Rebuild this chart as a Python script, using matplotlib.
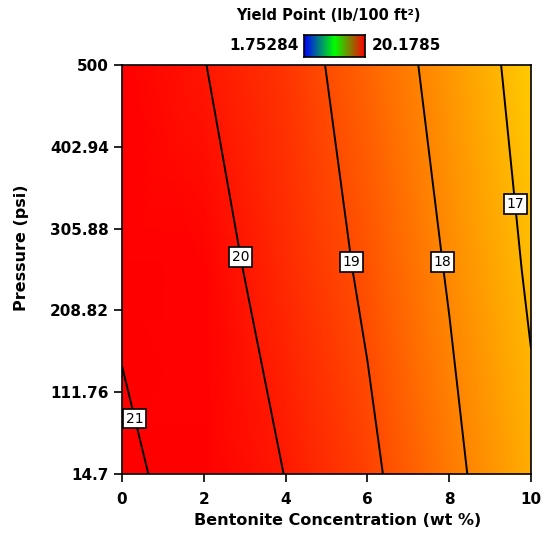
import numpy as np
import matplotlib
matplotlib.use('Agg')
import matplotlib.pyplot as plt
from matplotlib.colors import LinearSegmentedColormap

# Read-off grid of the response surface (yield point, lb/100 ft^2)
conc = [0.0, 2.0, 4.0, 6.0, 8.0, 10.0]      # wt %
pressure = [14.7, 257.35, 500.0]            # psi
yp = [
    [21.19, 20.60, 19.985, 19.18, 18.23, 17.19],   # 14.7 psi
    [20.83, 20.32, 19.65, 18.855, 17.935, 16.88],  # 257.35 psi
    [20.68, 20.02, 19.41, 18.56, 17.66, 16.62],    # 500 psi
]
levels = [17, 18, 19, 20, 21]
label_pos = [(9.66, 335), (7.92, 267), (5.72, 267), (3.0, 273), (0.37, 81)]

x_ticks = [0, 2, 4, 6, 8, 10]
y_ticks = [14.7, 111.76, 208.82, 305.88, 402.94, 500]
y_ticklabels = ['14.7', '111.76', '208.82', '305.88', '402.94', '500']
cb_min, cb_max = '1.75284', '20.1785'

fig = plt.figure(figsize=(5.44, 5.34), dpi=100)
ax = fig.add_axes([0.2243, 0.1124, 0.7518, 0.7659])

# fill colours: red for high values, fading to yellow
fill_cmap = LinearSegmentedColormap.from_list('yp_fill', [
    (0.0, '#ffcc00'), (0.09, '#ffb400'), (0.30, '#ff8800'),
    (0.52, '#ff4a00'), (0.74, '#ff1800'), (0.82, '#ff0000'), (1.0, '#ff0000')])

X, Y = np.meshgrid(conc, pressure)
Z = np.array(yp)
ax.pcolormesh(X, Y, Z, shading='gouraud', cmap=fill_cmap, vmin=16.6, vmax=21.2)
cs = ax.contour(X, Y, Z, levels=levels, colors='black', linewidths=1.4)
lbls = ax.clabel(cs, levels, inline=False, fmt='%d', fontsize=10, manual=label_pos)
for t in lbls:
    t.set_rotation(0)
    t.set_bbox(dict(facecolor='white', edgecolor='black', linewidth=1.2, pad=2))

ax.set_xlim(0, 10)
ax.set_ylim(14.7, 500)
ax.set_xticks(x_ticks)
ax.set_yticks(y_ticks)
ax.set_yticklabels(y_ticklabels)
ax.tick_params(direction='out', length=6, width=1.2, labelsize=11)
ax.tick_params(axis='x', pad=7)
for lab in ax.get_xticklabels() + ax.get_yticklabels():
    lab.set_fontweight('bold')
for s in ax.spines.values():
    s.set_linewidth(1.2)
ax.set_xlabel('Bentonite Concentration (wt %)', fontsize=11.5, fontweight='bold')
ax.set_ylabel('Pressure (psi)', fontsize=11.5, fontweight='bold')
ax.xaxis.set_label_coords(0.528, -0.095)
ax.yaxis.set_label_coords(-0.228, 0.553)

# colour bar legend at the top
cax = fig.add_axes([304 / 544, 1 - 57 / 534, 61 / 544, 22 / 534])
bar_cmap = LinearSegmentedColormap.from_list('yp_bar', ['#0000ff', '#00ff00', '#ff0000'])
cax.imshow(np.linspace(0, 1, 200)[None, :], aspect='auto', cmap=bar_cmap)
cax.set_xticks([])
cax.set_yticks([])
for s in cax.spines.values():
    s.set_linewidth(1.2)
fig.text(328 / 544, 1 - 16 / 534, 'Yield Point (lb/100 ft²)', ha='center', va='center',
         fontsize=10.5, fontweight='bold')
fig.text(299 / 544, 1 - 46 / 534, cb_min, ha='right', va='center', fontsize=11, fontweight='bold')
fig.text(372 / 544, 1 - 46 / 534, cb_max, ha='left', va='center', fontsize=11, fontweight='bold')

fig.savefig('out.png', dpi=100)
